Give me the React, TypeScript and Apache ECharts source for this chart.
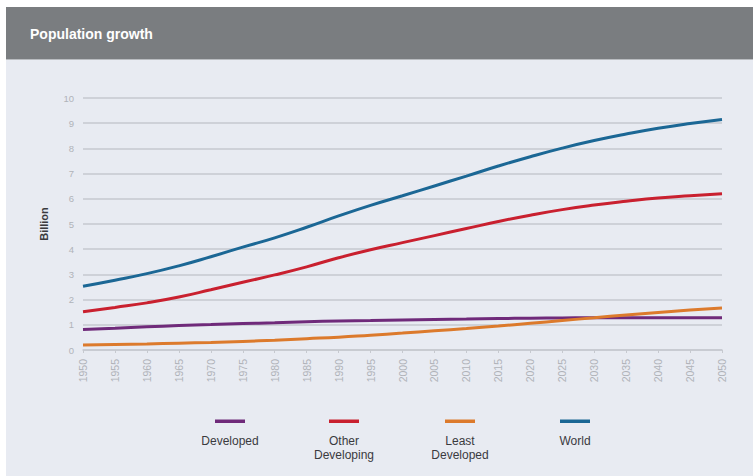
import React, { useEffect, useRef } from "react";
import * as echarts from "echarts";

const years = [
  "1950", "1955", "1960", "1965", "1970", "1975", "1980", "1985", "1990", "1995", "2000",
  "2005", "2010", "2015", "2020", "2025", "2030", "2035", "2040", "2045", "2050",
];
const developed = [0.81, 0.86, 0.92, 0.97, 1.01, 1.05, 1.08, 1.12, 1.15, 1.17, 1.19, 1.21, 1.23, 1.25, 1.26, 1.27, 1.28, 1.28, 1.28, 1.28, 1.28];
const otherDeveloping = [1.52, 1.69, 1.87, 2.1, 2.39, 2.69, 2.98, 3.3, 3.66, 3.98, 4.26, 4.54, 4.82, 5.1, 5.35, 5.57, 5.75, 5.9, 6.03, 6.12, 6.2];
const leastDeveloped = [0.2, 0.22, 0.24, 0.27, 0.3, 0.34, 0.39, 0.45, 0.51, 0.59, 0.67, 0.76, 0.85, 0.95, 1.06, 1.17, 1.28, 1.39, 1.49, 1.59, 1.67];
const world = [2.53, 2.77, 3.03, 3.34, 3.7, 4.08, 4.45, 4.87, 5.32, 5.74, 6.12, 6.51, 6.9, 7.3, 7.67, 8.01, 8.31, 8.57, 8.8, 8.99, 9.15];

const seriesNames = ["Developed", "Other\nDeveloping", "Least\nDeveloped", "World"];
const seriesData = [developed, otherDeveloping, leastDeveloped, world];
const seriesColors = ["#6f2a7a", "#c9202f", "#dc7a2c", "#1b6795"];
const legendCenters = [230, 344, 460, 575];

export default function App() {
  const ref = useRef<HTMLDivElement>(null);
  useEffect(() => {
    if (!ref.current) return;
    const chart = echarts.init(ref.current, null, { renderer: "svg" });
    const font = "'Liberation Sans', Arial, sans-serif";
    const graphics: any[] = [
      { type: "rect", shape: { x: 6, y: 60, width: 747, height: 416 }, style: { fill: "#e8ebf2" }, z: -10 },
      { type: "rect", shape: { x: 6, y: 7, width: 747, height: 52 }, style: { fill: "#7a7d80" }, z: -10 },
      { type: "rect", shape: { x: 6, y: 59, width: 747, height: 1 }, style: { fill: "#b9bcc0" }, z: -10 },
      {
        type: "text",
        x: 30,
        y: 34,
        style: { text: "Population growth", fill: "#ffffff", font: "bold 14px " + font, textVerticalAlign: "middle" },
      },
    ];
    seriesNames.forEach((n, i) => {
      graphics.push({
        type: "rect",
        shape: { x: legendCenters[i] - 15, y: 419.5, width: 30, height: 3.5 },
        style: { fill: seriesColors[i] },
      });
      graphics.push({
        type: "text",
        x: legendCenters[i],
        y: 434,
        style: {
          text: n,
          fill: "#3a3a3e",
          font: "12px " + font,
          align: "center",
          verticalAlign: "top",
          lineHeight: 14,
        },
      });
    });
    chart.setOption({
      animation: false,
      backgroundColor: "#ffffff",
      grid: { left: 83, right: 31, top: 98, bottom: 126 },
      xAxis: {
        type: "category",
        data: years,
        boundaryGap: false,
        axisLine: { lineStyle: { color: "#c6c9cf", width: 1.5 } },
        axisTick: { show: true, length: 3, lineStyle: { color: "#c6c9cf" } },
        axisLabel: { rotate: 90, color: "#b0b3b9", fontSize: 10.5, fontFamily: font, margin: 9 },
      },
      yAxis: {
        type: "value",
        min: 0,
        max: 10,
        interval: 1,
        name: "Billion",
        nameLocation: "middle",
        nameRotate: 90,
        nameGap: 34,
        nameTextStyle: { color: "#3a3a3e", fontSize: 11, fontFamily: font, fontWeight: "bold" },
        axisLine: { show: false },
        axisTick: { show: false },
        axisLabel: { color: "#b0b3b9", fontSize: 9.5, fontFamily: font, margin: 9 },
        splitLine: { lineStyle: { color: "#c6c9cf", width: 1.5 } },
      },
      series: seriesNames.map((n, i) => ({
        name: n,
        type: "line",
        data: seriesData[i],
        smooth: true,
        showSymbol: false,
        lineStyle: { color: seriesColors[i], width: 3 },
        itemStyle: { color: seriesColors[i] },
      })),
      graphic: graphics,
    });
    return () => chart.dispose();
  }, []);
  return (
    <div
      ref={ref}
      style={{ position: "fixed", left: 0, top: 0, width: 753, height: 476 }}
    />
  );
}
